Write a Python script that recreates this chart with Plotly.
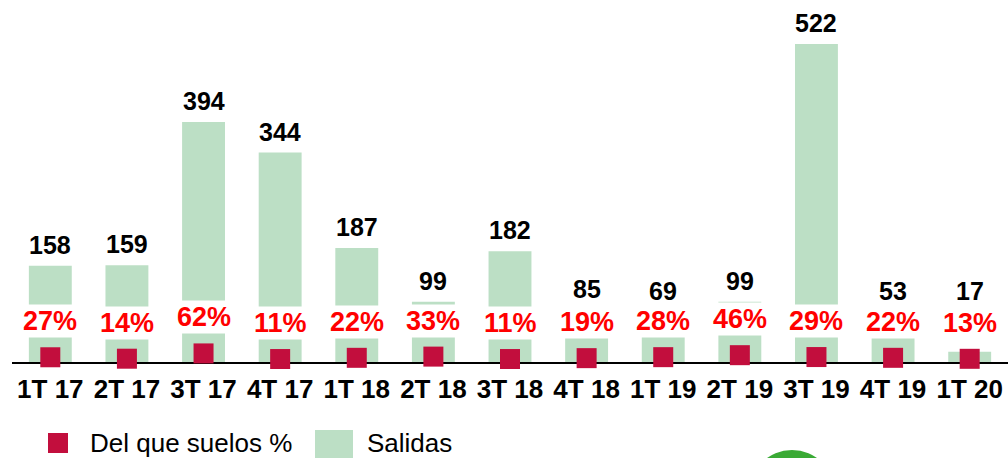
import plotly.graph_objects as go

categories = ["1T 17", "2T 17", "3T 17", "4T 17", "1T 18", "2T 18", "3T 18",
              "4T 18", "1T 19", "2T 19", "3T 19", "4T 19", "1T 20"]
salidas = [158, 159, 394, 344, 187, 99, 182, 85, 69, 99, 522, 53, 17]
suelos_pct = [27, 14, 62, 11, 22, 33, 11, 19, 28, 46, 29, 22, 13]

FONT = "Liberation Sans, Arial, sans-serif"
GREEN = "#BCDFC5"
RED_SQ = "#C20E3D"
RED_TXT = "#FF0000"

fig = go.Figure()
fig.add_trace(go.Bar(
    x=categories, y=salidas, name="Salidas",
    marker=dict(color=GREEN, line=dict(width=0)),
    yaxis="y", showlegend=False,
))
fig.add_trace(go.Scatter(
    x=categories, y=[p / 100 for p in suelos_pct], name="Del que suelos %",
    mode="markers", marker=dict(symbol="square", size=20, color=RED_SQ),
    yaxis="y2", showlegend=False, cliponaxis=False,
))

annotations = []
for c, v in zip(categories, salidas):
    annotations.append(dict(
        x=c, y=max(v, 82), xref="x", yref="y", text=str(v), showarrow=False,
        yanchor="middle", yshift=21,
        font=dict(family=FONT, size=25, color="black", weight="bold"),
    ))
for c, p in zip(categories, suelos_pct):
    annotations.append(dict(
        x=c, y=p / 100, xref="x", yref="y2", text=f"{p}%", showarrow=False,
        yanchor="middle", yshift=36, bgcolor="white", borderpad=1,
        font=dict(family=FONT, size=27, color=RED_TXT, weight="bold"),
    ))

W, H = 1008, 458
ML, MR, MT, MB = 12, 0, 10, 96
pw, ph = W - ML - MR, H - MT - MB


def px(xp):
    return (xp - ML) / pw


def py(yp):
    return (H - MB - yp) / ph


# manual legend
annotations.append(dict(x=px(88), y=py(443), xref="paper", yref="paper", text="Del que suelos %",
                        showarrow=False, xanchor="left", yanchor="middle",
                        font=dict(family=FONT, size=26, color="black")))
annotations.append(dict(x=px(365), y=py(443), xref="paper", yref="paper", text="Salidas",
                        showarrow=False, xanchor="left", yanchor="middle",
                        font=dict(family=FONT, size=26, color="black")))

shapes = [
    dict(type="rect", xref="paper", yref="paper", x0=px(48), x1=px(68), y0=py(453), y1=py(433),
         fillcolor=RED_SQ, line=dict(width=0)),
    dict(type="rect", xref="paper", yref="paper", x0=px(315), x1=px(353), y0=py(470), y1=py(430),
         fillcolor=GREEN, line=dict(width=0)),
    dict(type="circle", xref="paper", yref="paper", x0=px(749), x1=px(835), y0=py(536), y1=py(450),
         fillcolor="#3AAA35", line=dict(width=0)),
]

fig.update_layout(
    width=W, height=H,
    margin=dict(l=ML, r=MR, t=MT, b=MB),
    paper_bgcolor="white", plot_bgcolor="white",
    bargap=0.44,
    showlegend=False,
    xaxis=dict(type="category", showline=True, linecolor="black", linewidth=1.5,
               showgrid=False, zeroline=False, ticks="outside", ticklen=3, tickcolor="rgba(0,0,0,0)",
               tickfont=dict(family=FONT, size=26, color="black", weight="bold"),
               layer="below traces", range=[-0.5, 12.5]),
    yaxis=dict(range=[0, 578], visible=False, showgrid=False, zeroline=False),
    yaxis2=dict(range=[-0.16, 31.84], overlaying="y", visible=False, showgrid=False, zeroline=False),
    annotations=annotations,
    shapes=shapes,
)

fig.write_html("out.html", config={"displayModeBar": False},
               post_script="document.body.style.margin='0';document.body.style.overflow='hidden';")
